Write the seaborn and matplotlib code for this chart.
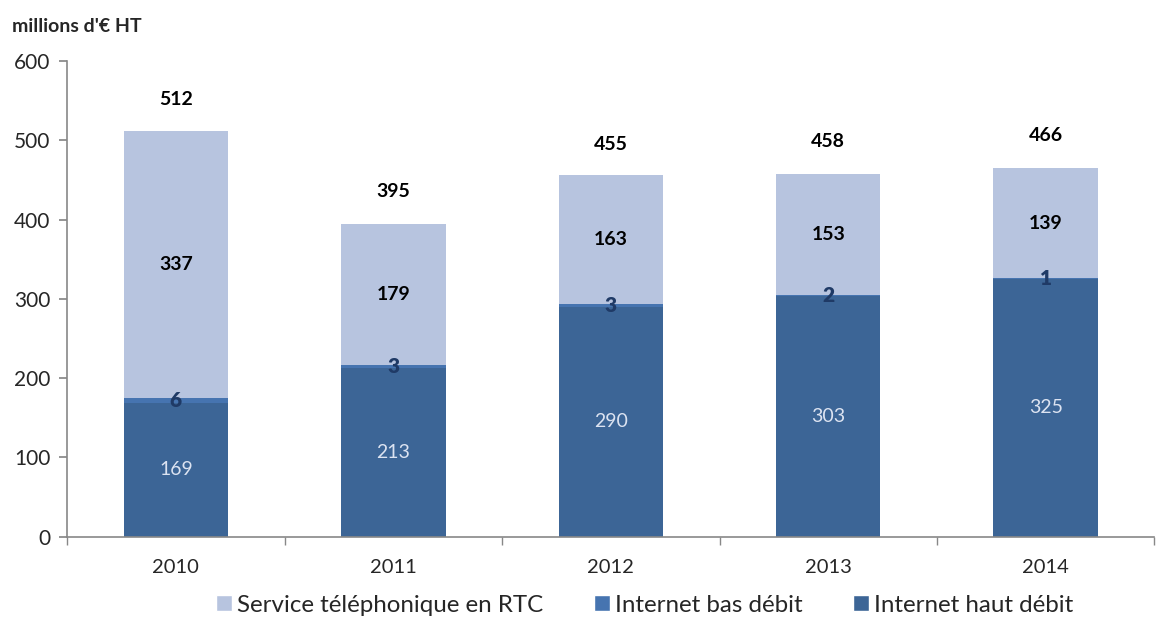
import matplotlib
matplotlib.use("Agg")
import matplotlib.pyplot as plt
import seaborn as sns
import numpy as np
import pandas as pd
from matplotlib.patches import Patch

years = ["2010", "2011", "2012", "2013", "2014"]
haut_debit = [169, 213, 290, 303, 325]
bas_debit = [6, 3, 3, 2, 1]
rtc = [337, 179, 163, 153, 139]
totals = [512, 395, 455, 458, 466]
series_names = ["Service téléphonique en RTC", "Internet bas débit", "Internet haut débit"]
y_ticks = [0, 100, 200, 300, 400, 500, 600]
unit_label = "millions d'€ HT"

c_rtc = "#B7C4DF"
c_bas = "#4674B0"
c_haut = "#3C6596"

sns.set_theme(style="white")
plt.rcParams['font.family'] = ['Lato', 'DejaVu Sans']

fig = plt.figure(figsize=(11.59, 6.22), dpi=100)
ax = fig.add_axes([0.058, 0.137, 0.938, 0.765])

df = pd.DataFrame({"year": years, "haut": haut_debit, "bas": bas_debit, "rtc": rtc})
bottom_bas = np.array(haut_debit)
bottom_rtc = bottom_bas + np.array(bas_debit)

w = 0.48
sns.barplot(data=df, x="year", y="haut", color=c_haut, width=w, saturation=1, ax=ax, linewidth=0)
sns.barplot(data=df, x="year", y="bas", bottom=bottom_bas, color=c_bas, width=w, saturation=1, ax=ax, linewidth=0)
sns.barplot(data=df, x="year", y="rtc", bottom=bottom_rtc, color=c_rtc, width=w, saturation=1, ax=ax, linewidth=0)

for i in range(len(years)):
    ax.text(i, haut_debit[i] / 2, str(haut_debit[i]), ha="center", va="center",
            color="#DCE3F1", fontsize=14)
    ax.text(i, haut_debit[i] + bas_debit[i] / 2, str(bas_debit[i]), ha="center", va="center",
            color="#1F3A66", fontsize=15, fontweight="heavy")
    ax.text(i, bottom_rtc[i] + rtc[i] / 2, str(rtc[i]), ha="center", va="center",
            color="black", fontsize=14, fontweight="bold")
    ax.text(i, totals[i] + 40, str(totals[i]), ha="center", va="center",
            color="black", fontsize=14, fontweight="bold")

ax.set_xlim(-0.5, len(years) - 0.5)
ax.set_ylim(0, 600)
ax.set_yticks(y_ticks)
ax.set_yticklabels([str(t) for t in y_ticks], fontsize=15)
ax.set_xlabel("")
ax.set_ylabel("")
ax.tick_params(axis="x", which="major", length=0, labelsize=14.5, pad=16)
ax.set_xticks(np.arange(-0.5, len(years)), minor=True)
ax.tick_params(axis="x", which="minor", length=6, color="#888888", direction="out", bottom=True)
ax.tick_params(axis="y", length=6, color="#888888", direction="out", left=True, pad=6)

for s in ["top", "right"]:
    ax.spines[s].set_visible(False)
for s in ["left", "bottom"]:
    ax.spines[s].set_color("#888888")
    ax.spines[s].set_linewidth(1.2)

fig.text(0.010, 0.958, unit_label, fontsize=14, fontweight="bold", ha="left", va="center")

handles = [Patch(facecolor=c_rtc, label=series_names[0]),
           Patch(facecolor=c_bas, label=series_names[1]),
           Patch(facecolor=c_haut, label=series_names[2])]
fig.legend(handles=handles, loc="center", bbox_to_anchor=(0.556, 0.027), ncol=3,
           frameon=False, fontsize=17.4, handlelength=0.67, handleheight=0.67,
           handletextpad=0.2, columnspacing=2.1, borderpad=0, borderaxespad=0)

fig.savefig("out.png", dpi=100)
